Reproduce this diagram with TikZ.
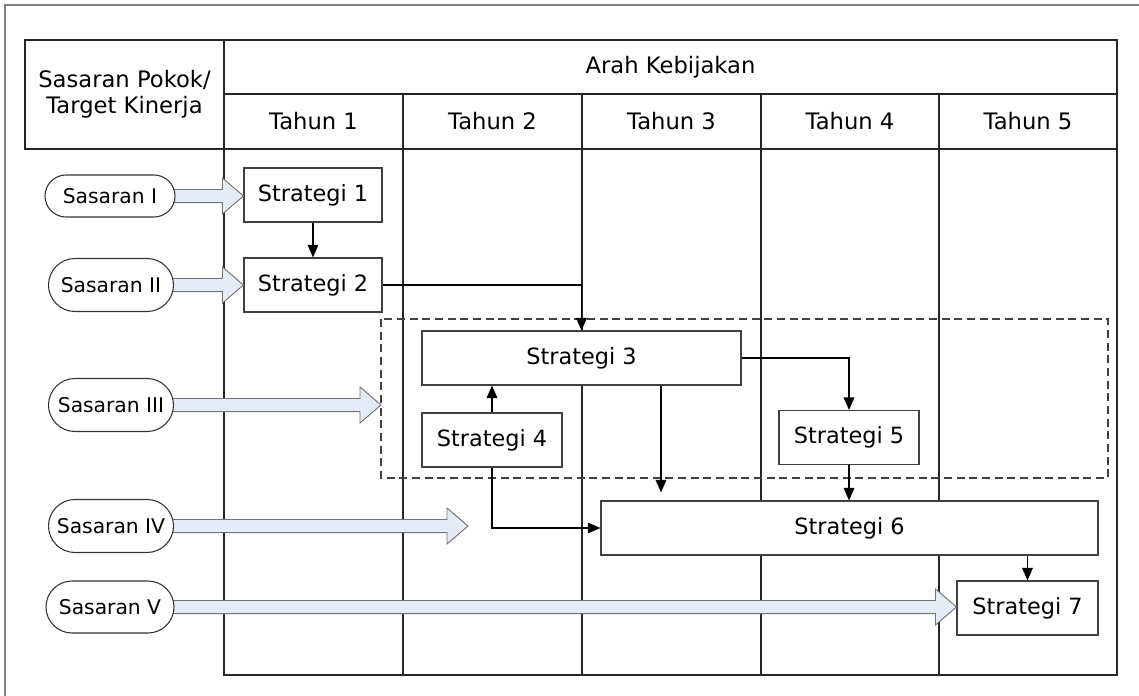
\documentclass[tikz,border=0pt]{standalone}
\usepackage{fontspec}
\setmainfont{DejaVu Sans}
\usetikzlibrary{arrows.meta,shapes.misc,calc}
\definecolor{arrowfill}{HTML}{E4EBF6}

% block arrow from the centre of a goal node to a tip point
\newcommand\blockarrow[2]{%
  \draw[blk] let \p1=(#1.center), \p2=(#2) in
    (\x1,\y1-4.9pt) -- (\x2-15.75pt,\y1-4.9pt) -- (\x2-15.75pt,\y1-13.5pt) --
    (\x2,\y1) -- (\x2-15.75pt,\y1+13.5pt) -- (\x2-15.75pt,\y1+4.9pt) -- (\x1,\y1+4.9pt);}

\begin{document}
\begin{tikzpicture}[x=0.75pt,y=-0.75pt,
  grid/.style={draw=black!85, line width=0.9pt},
  stratbox/.style={draw=black!75, line width=0.8pt, fill=white, minimum height=40.5pt,
    inner sep=0pt, font=\fontsize{16.8}{20}\selectfont},
  goal/.style={rounded rectangle, draw=black!80, line width=0.8pt, fill=white,
    minimum width=93.75pt, minimum height=39.75pt, inner sep=0pt,
    font=\fontsize{15.2}{18}\selectfont},
  blk/.style={draw=black!55, line width=0.7pt, fill=arrowfill},
  link/.style={draw=black, line width=1.1pt, -{Triangle[length=9.5pt,width=8pt]}},
  head/.style={font=\fontsize{17}{19.5}\selectfont, align=center}
]
\useasboundingbox (0,0) rectangle (1139,696);

% outer frame
\draw[black!50, line width=1.4pt] (5,696) -- (5,5) -- (1139,5);

% table
\draw[grid] (25,40) rectangle (224,149);
\draw[grid] (224,40) rectangle (1117,675);
\draw[grid] (224,94) -- (1117,94);
\draw[grid] (224,149) -- (1117,149);
\foreach \cx in {403,582,761,939} \draw[grid] (\cx,94) -- (\cx,675);

\node[head] (hgoal) at (124.5,94.5) {Sasaran Pokok/\\Target Kinerja};
\node[head] (hpol) at (670.5,67) {Arah Kebijakan};
\node[head] (y1) at (313.5,121.5) {Tahun 1};
\node[head] (y2) at (492.5,121.5) {Tahun 2};
\node[head] (y3) at (671.5,121.5) {Tahun 3};
\node[head] (y4) at (850,121.5) {Tahun 4};
\node[head] (y5) at (1028,121.5) {Tahun 5};

% grouping frame
\draw[black!75, line width=0.8pt, dashed, dash pattern=on 6pt off 3.5pt] (381,319) rectangle (1108,478);
\coordinate (grpin) at (381,405);
\coordinate (freein) at (468,526);

% strategy boxes
\node[stratbox, minimum width=103.5pt] (s1) at (313,195) {Strategi 1};
\node[stratbox, minimum width=103.5pt] (s2) at (313,285) {Strategi 2};
\node[stratbox, minimum width=239.25pt] (s3) at (581.5,358) {Strategi 3};
\node[stratbox, minimum width=105pt] (s4) at (492,440) {Strategi 4};
\node[stratbox, minimum width=105pt] (s5) at (849,437.5) {Strategi 5};
\node[stratbox, minimum width=372.75pt] (s6) at (849.5,528) {Strategi 6};
\node[stratbox, minimum width=105.75pt] (s7) at (1027.5,608) {Strategi 7};

% goals (positions only, drawn after the block arrows)
\path (110,196) coordinate (p1) (111,285) coordinate (p2) (111,405) coordinate (p3)
      (111,526) coordinate (p4) (110,607) coordinate (p5);
\blockarrow{p1}{s1.west}
\blockarrow{p2}{s2.west}
\blockarrow{p3}{grpin}
\blockarrow{p4}{freein}
\blockarrow{p5}{s7.west}

\node[goal, minimum width=97.5pt, minimum height=31.5pt] (g1) at (p1) {Sasaran I};
\node[goal] (g2) at (p2) {Sasaran II};
\node[goal] (g3) at (p3) {Sasaran III};
\node[goal] (g4) at (p4) {Sasaran IV};
\node[goal, minimum width=96pt, minimum height=39pt] (g5) at (p5) {Sasaran V};

% links between strategies
\coordinate (c36) at (661,0);
\draw[link] (s1.south) -- (s2.north);
\draw[link] (s2.east) -| (s3.north);
\draw[link] (s4.north) -- (s4.north |- s3.south);
\draw[link] (s3.east) -| (s5.north);
\draw[link, shorten >=6pt] (c36 |- s3.south) -- (c36 |- s6.north);
\draw[link] (s5.south) -- (s5.south |- s6.north);
\draw[link] (s4.south) |- (s6.west);
\draw[link] (s7.north |- s6.south) -- (s7.north);
\end{tikzpicture}
\end{document}
